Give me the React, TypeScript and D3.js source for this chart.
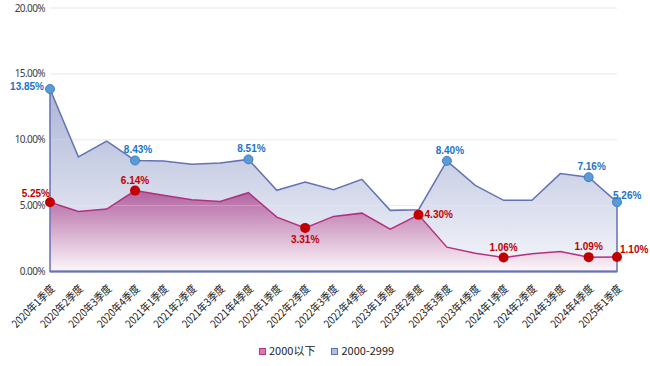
import * as d3 from 'd3';

const quarters = [
  '2020年1季度', '2020年2季度', '2020年3季度', '2020年4季度',
  '2021年1季度', '2021年2季度', '2021年3季度', '2021年4季度',
  '2022年1季度', '2022年2季度', '2022年3季度', '2022年4季度',
  '2023年1季度', '2023年2季度', '2023年3季度', '2023年4季度',
  '2024年1季度', '2024年2季度', '2024年3季度', '2024年4季度',
  '2025年1季度',
];
const below2000 = [5.25, 4.56, 4.74, 6.14, 5.78, 5.45, 5.32, 5.98, 4.13, 3.31, 4.18, 4.43, 3.22, 4.30, 1.85, 1.39, 1.06, 1.35, 1.52, 1.09, 1.10];
const from2000to2999 = [13.85, 8.70, 9.89, 8.43, 8.39, 8.14, 8.24, 8.51, 6.16, 6.79, 6.21, 7.00, 4.64, 4.69, 8.40, 6.54, 5.40, 5.40, 7.43, 7.16, 5.26];
const yTicks = [0, 5, 10, 15, 20];
const seriesNames = ['2000以下', '2000-2999'];
const markedBelow = [0, 3, 9, 13, 16, 19, 20];
const markedMid = [0, 3, 7, 14, 19, 20];

// label placement (dx, dy from the point, anchor), default is above
const belowPlace: Record<number, [number, number, string]> = {
  0: [0, -5, 'end'],
  9: [0, 15, 'middle'],
  13: [6, 3, 'start'],
  20: [3, -4, 'start'],
};
const midPlace: Record<number, [number, number, string]> = {
  0: [-6, 1, 'end'],
  20: [-4, -3, 'start'],
};

const width = 650;
const height = 366;
const margin = { top: 8, right: 33, bottom: 94.5, left: 50 };

const blue = '#6373b5';
const red = '#b3307f';
const blueLabel = '#1a73c8';
const redLabel = '#c00000';

export default function App() {
  const x = d3.scalePoint<string>().domain(quarters).range([margin.left, width - margin.right]);
  const y = d3.scaleLinear().domain([0, 20]).range([height - margin.bottom, margin.top]);

  const xs = (i: number) => x(quarters[i]) as number;

  const area = d3.area<number>().x((d, i) => xs(i)).y0(y(0)).y1(d => y(d));
  const line = d3.line<number>().x((d, i) => xs(i)).y(d => y(d));

  const fmt = (v: number) => v.toFixed(2) + '%';

  const labels = (values: number[], marked: number[], place: Record<number, [number, number, string]>, color: string, topDx: number) =>
    marked.map(i => {
      const [dx, dy, anchor] = place[i] || [topDx, -7, 'middle'];
      return (
        <text key={i} x={xs(i) + dx} y={y(values[i]) + dy} textAnchor={anchor}
          fill={color} fontSize={10} fontWeight="bold" fontFamily="Liberation Sans, Arial, sans-serif">
          {fmt(values[i])}
        </text>
      );
    });

  return (
    <svg width={width} height={height} style={{ position: 'absolute', left: 0, top: 0 }}>
      <defs>
        <linearGradient id="gMid" gradientUnits="userSpaceOnUse" x1={0} x2={0} y1={y(14)} y2={y(0)}>
          <stop offset="0" stopColor="#a4aed1" />
          <stop offset="1" stopColor="#f4f5fb" />
        </linearGradient>
        <linearGradient id="gLow" gradientUnits="userSpaceOnUse" x1={0} x2={0} y1={y(6.2)} y2={y(0)}>
          <stop offset="0" stopColor="#b0609f" />
          <stop offset="1" stopColor="#fdf7fb" />
        </linearGradient>
      </defs>

      {yTicks.map(t => (
        <g key={t}>
          <line x1={margin.left} x2={width - margin.right} y1={y(t)} y2={y(t)} stroke="#e6e6e6" />
          <text x={45} y={y(t)} dy="0.35em" textAnchor="end" fontSize={10} letterSpacing={-0.6}
            fill="#404040" fontFamily="Noto Sans, sans-serif">{t.toFixed(2) + '%'}</text>
        </g>
      ))}

      <path d={area(from2000to2999) as string} fill="url(#gMid)" fillOpacity={0.92} />
      <path d={area(below2000) as string} fill="url(#gLow)" />
      {yTicks.slice(1, 3).map(t => (
        <line key={t} x1={margin.left} x2={width - margin.right} y1={y(t)} y2={y(t)} stroke="#ffffff" strokeOpacity={0.25} />
      ))}
      <path d={area(from2000to2999) as string} fill="none" stroke={blue} strokeWidth={1.5} />
      <line x1={margin.left} x2={width - margin.right} y1={y(0)} y2={y(0)} stroke={blue} strokeWidth={2} />
      <path d={line(below2000) as string} fill="none" stroke={red} strokeWidth={1.5} />

      {markedMid.map(i => (
        <circle key={i} cx={xs(i)} cy={y(from2000to2999[i])} r={4.5} fill="#5b9bd5" stroke="#3f7dc0" strokeWidth={1} />
      ))}
      {markedBelow.map(i => (
        <circle key={i} cx={xs(i)} cy={y(below2000[i])} r={5} fill="#c00000" />
      ))}

      {labels(from2000to2999, markedMid, midPlace, blueLabel, 3)}
      {labels(below2000, markedBelow, belowPlace, redLabel, 0)}

      {quarters.map((q, i) => (
        <text key={q} transform={`translate(${xs(i) + 5.5},${y(0) + 18}) rotate(-45)`} textAnchor="end"
          fontSize={11} textLength={55} lengthAdjust="spacingAndGlyphs"
          fill="#1a1a1a" fontFamily="Noto Sans CJK SC, sans-serif">{q}</text>
      ))}

      <g fontSize={11} fill="#222" fontFamily="Noto Sans CJK SC, sans-serif">
        <rect x={259.5} y={348.5} width={6} height={6} fill="#d97ab5" stroke="#c0307f" />
        <text x={269} y={351.5} dy="0.35em">{seriesNames[0]}</text>
        <rect x={331.5} y={348.5} width={6} height={6} fill="#b7bfe0" stroke="#5b6fb5" />
        <text x={341.5} y={351.5} dy="0.35em">{seriesNames[1]}</text>
      </g>
    </svg>
  );
}
